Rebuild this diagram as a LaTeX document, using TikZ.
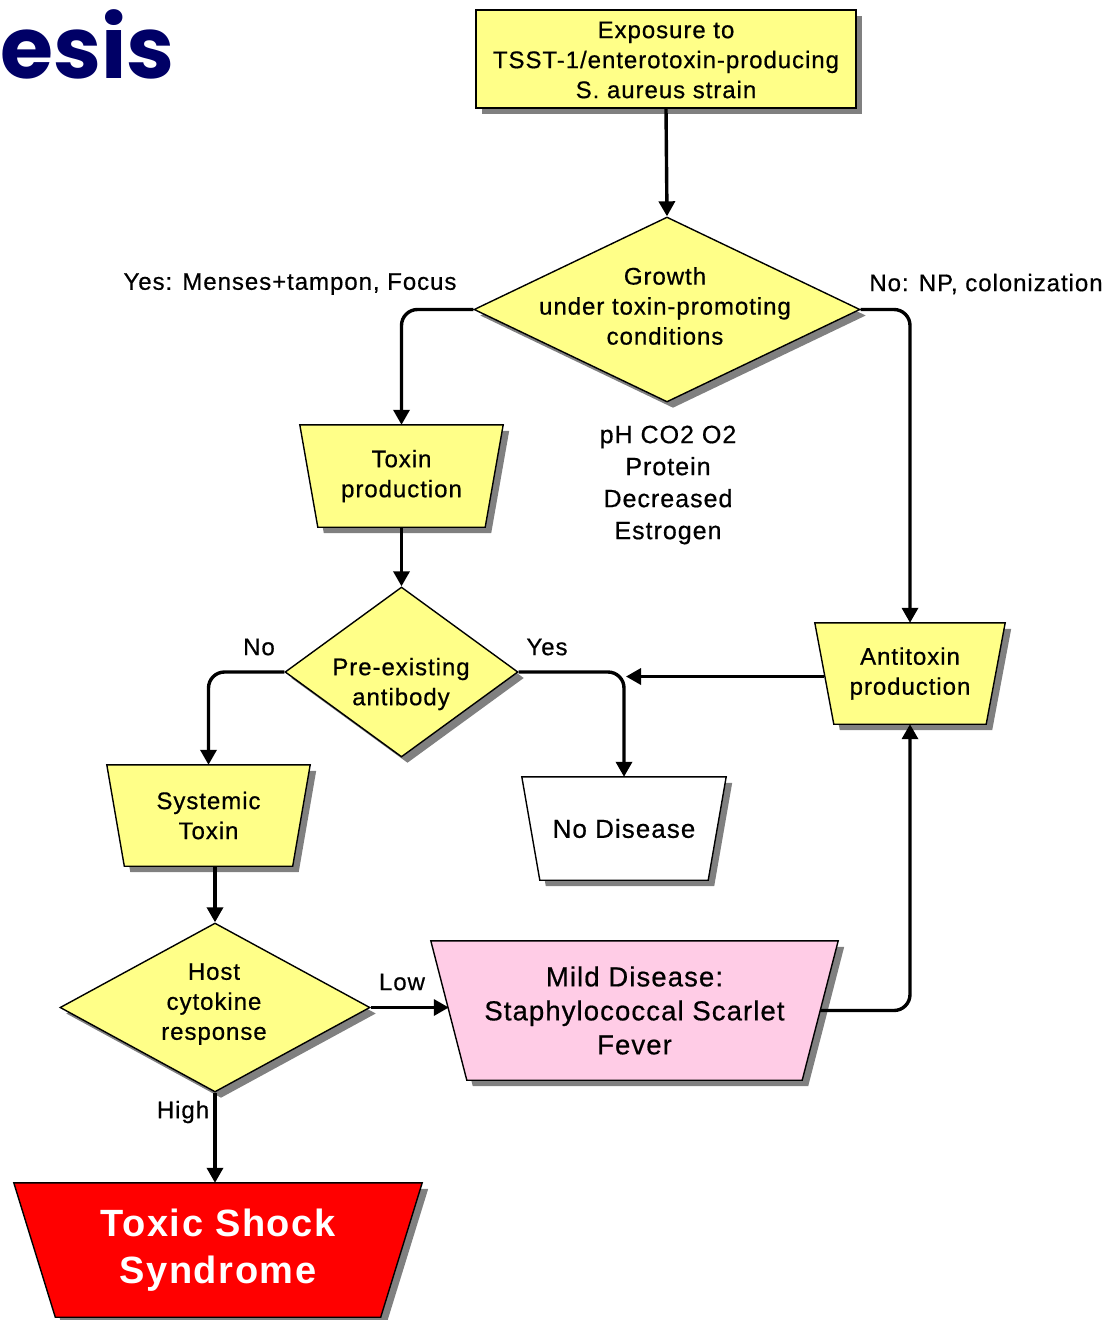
\documentclass[tikz,border=0pt]{standalone}
\usepackage{fontspec}
\setmainfont{Liberation Sans}[LetterSpace=4, UprightFeatures={FakeBold=0.6}]
\newfontfamily\titlefont{Poppins}
\usetikzlibrary{shapes.geometric,shadows,arrows.meta,backgrounds}
\definecolor{yfill}{HTML}{FFFF88}
\definecolor{pinkfill}{HTML}{FFCCE6}
\definecolor{navy}{HTML}{000066}
\definecolor{tssred}{HTML}{FF0000}
% #1 node name, #2 half inset (pt), #3 fill colour
\newcommand\trapdraw[3]{%
  \begin{pgfonlayer}{background}
  \draw[line width=1.4pt, fill=#3, sh]
    ([xshift=-#2pt]#1.north west) -- ([xshift=#2pt]#1.north east)
    -- ([xshift=-#2pt]#1.south east) -- ([xshift=#2pt]#1.south west) -- cycle;
  \end{pgfonlayer}}
\begin{document}
\begin{tikzpicture}[x=1pt,y=-1pt,
  sh/.style={drop shadow={shadow xshift=6pt,shadow yshift=-6pt,fill=black!50,opacity=1}},
  txt/.style={font=\fontsize{24}{30}\selectfont, align=center, inner sep=0pt},
  lbl/.style={font=\fontsize{24}{30}\selectfont, inner sep=0pt},
  boxy/.style={rectangle, draw, line width=1.4pt, fill=yfill, sh, inner sep=0pt},
  dia/.style={diamond, draw, line width=1.4pt, fill=yfill, sh, inner sep=0pt},
  trap/.style={rectangle, inner sep=0pt, align=center, font=\fontsize{24}{30}\selectfont},
  conn/.style={line width=3.4pt, rounded corners=16pt, -{Triangle[length=15pt,width=16pt]}}
]
\useasboundingbox (0,0) rectangle (1118,1320);

% title fragment
\node[anchor=base west, inner sep=0pt, text=navy, font=\titlefont\bfseries\fontsize{86}{86}\selectfont] (title) at (0,78) {esis};

% boxes
\node[boxy, minimum width=380pt, minimum height=98pt] (exp) at (666,59) {};
\node[txt] (expt) at (666,60) {Exposure to\\TSST-1/enterotoxin-producing\\S. aureus strain};

\node[dia, minimum width=386pt, minimum height=185pt] (grow) at (667,309.5) {};
\node[txt] (growt) at (665,306) {Growth\\under toxin-promoting\\conditions};

\node[trap, minimum width=185pt, minimum height=102pt] (tox) at (401.5,476) {Toxin\\production};
\trapdraw{tox}{9}{yfill}

\node[txt, font=\fontsize{25}{32}\selectfont] (cond) at (668,485) {pH CO2 O2\\Protein\\Decreased\\Estrogen};

\node[dia, minimum width=233pt, minimum height=170pt] (pre) at (401.5,672) {};
\node[txt] (pret) at (401,684) {Pre-existing\\antibody};

\node[trap, minimum width=171pt, minimum height=101pt] (anti) at (910,673.5) {Antitoxin\\production};
\trapdraw{anti}{9.5}{yfill}

\node[trap, minimum width=185.5pt, minimum height=101pt] (sys) at (208.5,815.5) {Systemic\\Toxin};
\trapdraw{sys}{8.75}{yfill}

\node[trap, minimum width=186pt, minimum height=103pt, font=\fontsize{26}{32}\selectfont] (nod) at (624,828.5) {No Disease};
\trapdraw{nod}{9}{white}

\node[dia, minimum width=310pt, minimum height=169pt] (host) at (215,1007.5) {};
\node[txt] (hostt) at (214,1004) {Host\\cytokine\\response};

\node[trap, minimum width=371pt, minimum height=139pt, font=\fontsize{27.5}{34}\selectfont] (mild) at (634.5,1010.5) {Mild Disease:\\Staphylococcal Scarlet\\Fever};
\trapdraw{mild}{18}{pinkfill}

\node[trap, minimum width=366.5pt, minimum height=134pt, text=white, font=\bfseries\fontsize{38}{47}\selectfont] (tss) at (218,1250) {Toxic Shock\\Syndrome};
\trapdraw{tss}{20.75}{tssred}

% connectors
\draw[conn] (exp.south) -- (grow.north);
\draw[conn] (grow.west) -| (tox.north);
\draw[conn] (grow.east) -| (anti.north);
\draw[conn] (tox.south) -- (pre.north);
\draw[conn] (pre.west) -| (sys.north);
\draw[conn] (pre.east) -| (nod.north);
\draw[conn] ([yshift=-3pt]anti.west) -- ([xshift=2pt,yshift=-3pt]nod.north |- anti.west);
\draw[conn] (host.north |- sys.south) -- (host.north);
\draw[conn] (host.east) -- (host.east -| mild.west);
\draw[conn] (host.south) -- (host.south |- tss.north);
\draw[conn] (mild.east) -| (anti.south);

% labels
\node[lbl] (lyes1) at (290,284) {Yes: Menses+tampon, Focus};
\node[lbl] (lno1) at (986,284) {No: NP, colonization};
\node[lbl] (lno2) at (259,647) {No};
\node[lbl] (lyes2) at (547,647) {Yes};
\node[lbl] (llow) at (402,982) {Low};
\node[lbl] (lhigh) at (183,1112) {High};
\end{tikzpicture}
\end{document}
